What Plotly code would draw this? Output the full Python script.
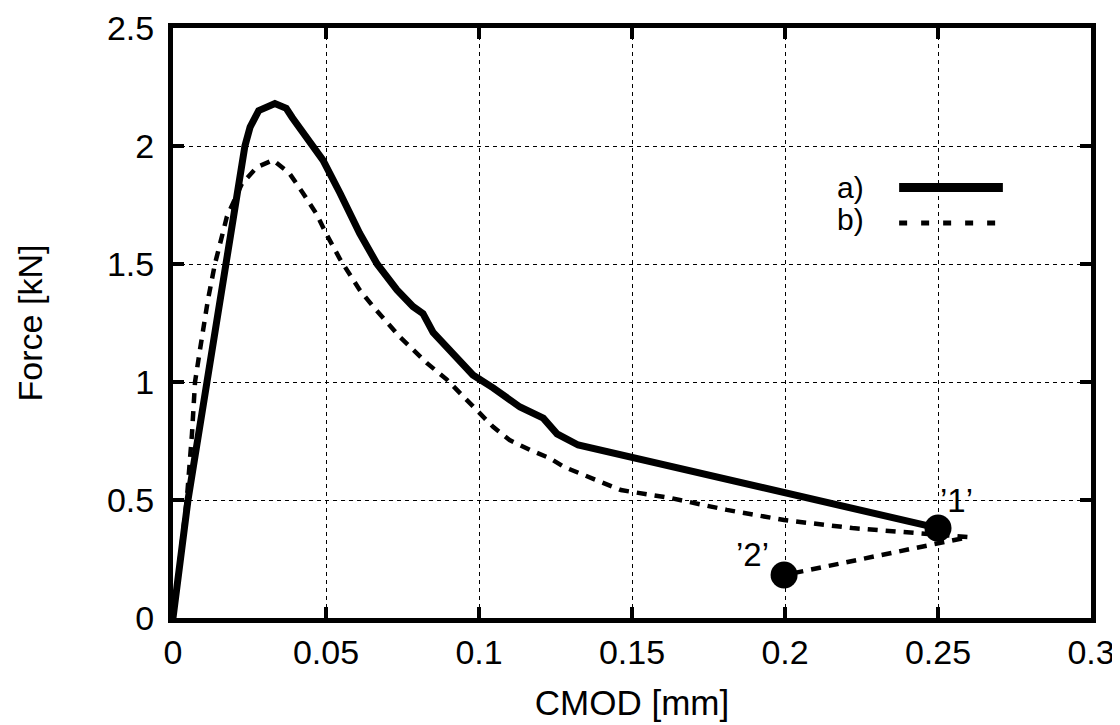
import plotly.graph_objects as go

# Curve a) (solid)
a_x = [0, 0.0049, 0.0111, 0.0173, 0.0205, 0.0235, 0.0252, 0.028, 0.0333, 0.037, 0.039,
       0.0425, 0.049, 0.0546, 0.061, 0.0667, 0.0732, 0.0784, 0.0817, 0.085, 0.0905,
       0.098, 0.1046, 0.1134, 0.121, 0.1255, 0.1324, 0.25]
a_y = [0, 0.5, 1.0, 1.5, 1.75, 2.0, 2.08, 2.15, 2.18, 2.16, 2.12,
       2.055, 1.94, 1.80, 1.63, 1.50, 1.39, 1.32, 1.29, 1.21, 1.135,
       1.03, 0.975, 0.894, 0.847, 0.78, 0.733, 0.381]

# Curve b) (dashed)
b_x = [0, 0.0045, 0.0062, 0.0072, 0.0088, 0.0114, 0.0137, 0.0176, 0.0225, 0.0274,
       0.0327, 0.038, 0.0425, 0.047, 0.050, 0.0546, 0.061, 0.0654, 0.0742, 0.083,
       0.0895, 0.096, 0.1046, 0.110, 0.1167, 0.123, 0.1278, 0.1464, 0.1627, 0.181,
       0.1997, 0.222, 0.245, 0.260, 0.1997]
b_y = [0, 0.5, 0.78, 1.0, 1.135, 1.347, 1.5, 1.70, 1.84, 1.91,
       1.94, 1.885, 1.80, 1.71, 1.63, 1.52, 1.39, 1.32, 1.19, 1.08,
       1.01, 0.924, 0.81, 0.754, 0.712, 0.678, 0.64, 0.542, 0.508, 0.458,
       0.415, 0.381, 0.36, 0.343, 0.182]

# Marked points
pt_x = [0.25, 0.1997]
pt_y = [0.381, 0.182]
pt_labels = ["’1’", "’2’"]
pt_label_x = [0.256, 0.1895]
pt_label_y = [0.50, 0.27]

x_ticks = [0, 0.05, 0.1, 0.15, 0.2, 0.25, 0.3]
x_ticktext = ["0", "0.05", "0.1", "0.15", "0.2", "0.25", "0.3"]
y_ticks = [0, 0.5, 1, 1.5, 2, 2.5]
y_ticktext = ["0", "0.5", "1", "1.5", "2", "2.5"]

legend_names = ["a)", "b)"]

FONT = "Liberation Sans, Arial, sans-serif"
FS = 34

fig = go.Figure()
fig.add_trace(go.Scatter(x=a_x, y=a_y, mode="lines", name=legend_names[0],
                         line=dict(color="black", width=7), showlegend=False))
fig.add_trace(go.Scatter(x=b_x, y=b_y, mode="lines", name=legend_names[1],
                         line=dict(color="black", width=4.5, dash="10px,8px"),
                         showlegend=False))
fig.add_trace(go.Scatter(x=pt_x, y=pt_y, mode="markers",
                         marker=dict(color="black", size=27), showlegend=False))

for t, lx, ly in zip(pt_labels, pt_label_x, pt_label_y):
    fig.add_annotation(x=lx, y=ly, text=t, showarrow=False,
                       font=dict(family=FONT, size=33, color="black"))

# Legend (gnuplot style: label then line sample)
leg_text_y = [0.7305, 0.6746]
leg_line_y = [0.7297, 0.6695]
leg_dash = ["solid", "8px,14px"]
leg_w = [9, 5]
for name, ty, ly, d, w in zip(legend_names, leg_text_y, leg_line_y, leg_dash, leg_w):
    fig.add_annotation(xref="paper", yref="paper", x=0.755, y=ty, text=name,
                       showarrow=False, xanchor="right", yanchor="middle",
                       font=dict(family=FONT, size=30, color="black"))
    fig.add_shape(type="line", xref="paper", yref="paper", x0=0.791, x1=0.904,
                  y0=ly, y1=ly, line=dict(color="black", width=w, dash=d))

axis_common = dict(
    showline=True, linecolor="black", linewidth=5, mirror="ticks",
    ticks="inside", ticklen=11, tickwidth=4, tickcolor="black",
    showgrid=True, gridcolor="black", gridwidth=1, griddash="4px,4px",
    zeroline=False, automargin=False,
    tickfont=dict(family=FONT, size=FS, color="black"),
)

fig.update_xaxes(range=[0, 0.3], tickvals=x_ticks, ticktext=x_ticktext,
                 title=dict(text="CMOD [mm]", font=dict(family=FONT, size=35, color="black"),
                            standoff=22),
                 ticklabelstandoff=0, **axis_common)
fig.update_yaxes(range=[0, 2.5], tickvals=y_ticks, ticktext=y_ticktext,
                 title=dict(text="Force [kN]", font=dict(family=FONT, size=FS, color="black"),
                            standoff=56),
                 ticklabelstandoff=7, **axis_common)

fig.update_layout(
    width=1112, height=717,
    margin=dict(l=165, r=29, t=20, b=107),
    plot_bgcolor="white", paper_bgcolor="white",
    font=dict(family=FONT, color="black"),
)

fig.write_html("out.html")
